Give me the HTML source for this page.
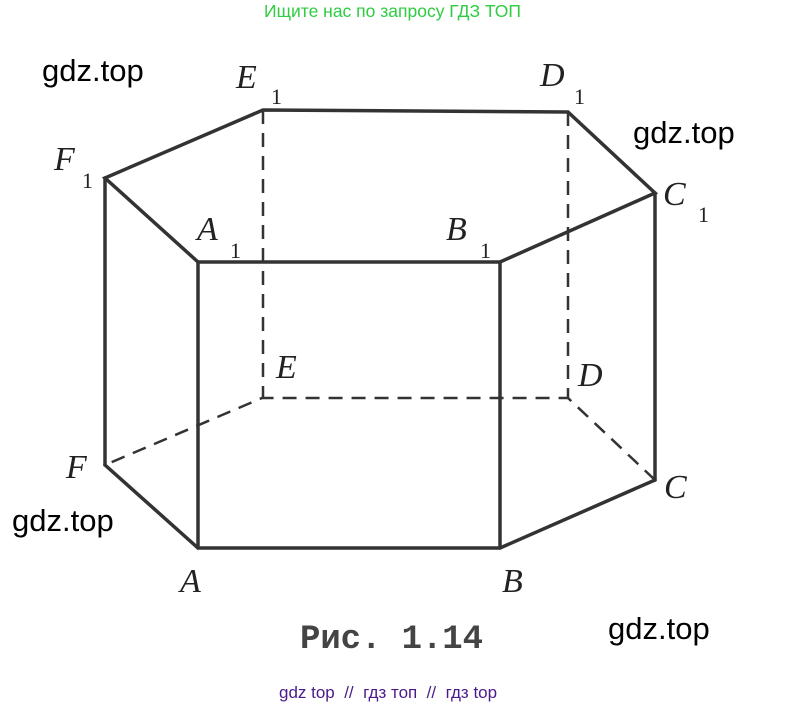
<!DOCTYPE html>
<html><head><meta charset="utf-8"><style>
body{margin:0;background:#fff;width:786px;height:709px;overflow:hidden;position:relative}
.t{position:absolute;font-family:"Liberation Sans",sans-serif;white-space:nowrap}
</style></head><body>
<div class="t" style="left:264px;top:1px;font-size:17.5px;color:#2ecc40">Ищите нас по запросу ГДЗ ТОП</div>
<div class="t" style="left:42px;top:53px;font-size:31px;color:#000">gdz.top</div>
<div class="t" style="left:633px;top:115px;font-size:31px;color:#000">gdz.top</div>
<div class="t" style="left:12px;top:503px;font-size:31px;color:#000">gdz.top</div>
<div class="t" style="left:608px;top:611px;font-size:31px;color:#000">gdz.top</div>
<div class="t" style="left:279px;top:683px;font-size:17px;color:#4b1a8a">gdz top &nbsp;// &nbsp;гдз топ &nbsp;// &nbsp;гдз top</div>
<svg width="786" height="709" style="position:absolute;left:0;top:0">
<g stroke="#333" stroke-width="3.5" fill="none" stroke-linecap="round">
<polygon points="105,178 263,110 568,112 655,193 500,262 198,262"/>
<line x1="105" y1="178" x2="105" y2="465"/>
<line x1="198" y1="262" x2="198" y2="548"/>
<line x1="500" y1="262" x2="500" y2="548"/>
<line x1="655" y1="193" x2="655" y2="480"/>
<polyline points="105,465 198,548 500,548 655,480"/>
</g>
<g stroke="#333" stroke-width="2.5" fill="none" stroke-dasharray="14,9">
<line x1="263" y1="110" x2="263" y2="398"/>
<line x1="568" y1="112" x2="568" y2="398"/>
<polyline points="655,480 568,398 262,398 105,465"/>
</g>
<g font-family="Liberation Serif,serif" font-style="italic" font-size="34" fill="#222">
<text x="236" y="88">E</text><text x="271" y="104" font-size="22" font-style="normal">1</text>
<text x="540" y="86">D</text><text x="574" y="104" font-size="22" font-style="normal">1</text>
<text x="54" y="170">F</text><text x="82" y="188" font-size="22" font-style="normal">1</text>
<text x="663" y="205">C</text><text x="698" y="222" font-size="22" font-style="normal">1</text>
<text x="197" y="240">A</text><text x="230" y="258" font-size="22" font-style="normal">1</text>
<text x="446" y="240">B</text><text x="480" y="258" font-size="22" font-style="normal">1</text>
<text x="276" y="378">E</text>
<text x="578" y="386">D</text>
<text x="66" y="478">F</text>
<text x="664" y="498">C</text>
<text x="180" y="592">A</text>
<text x="502" y="592">B</text>
</g>
<text x="300" y="648" font-family="Liberation Mono,monospace" font-size="34" fill="#444" font-weight="bold" textLength="183">Рис. 1.14</text>
</svg>
</body></html>
